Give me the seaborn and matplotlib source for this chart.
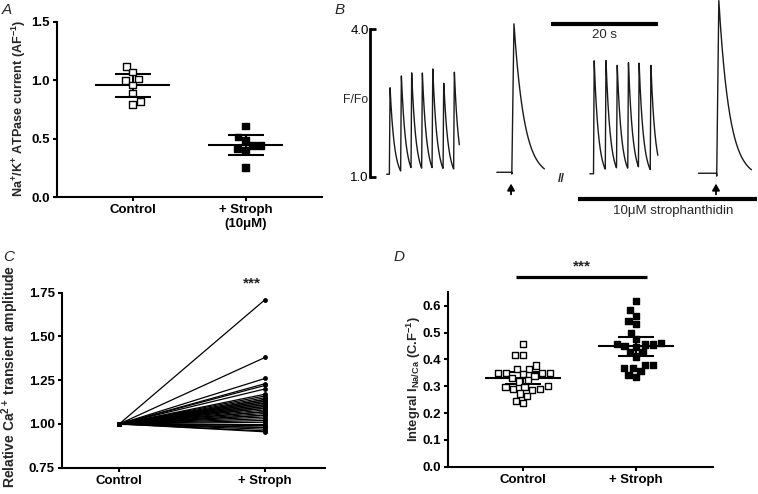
import numpy as np
import pandas as pd
import matplotlib
matplotlib.use('Agg')
import matplotlib.pyplot as plt
import seaborn as sns

# ------------------------------------------------------------------ data
groups = ['Control', '+ Stroph']
a_tick_labels = ['Control', '+ Stroph\n(10\u03bcM)']
a_control = [1.115, 1.07, 1.01, 0.995, 0.96, 0.89, 0.82, 0.79]
a_stroph = [0.61, 0.515, 0.488, 0.442, 0.442, 0.417, 0.40, 0.257]
a_mean = [0.958, 0.445]
a_lower = [0.858, 0.36]
a_upper = [1.055, 0.53]
a_yticks = [0.0, 0.5, 1.0, 1.5]

c_control = 1.0
c_stroph = [1.71, 1.38, 1.26, 1.23, 1.22, 1.20, 1.17, 1.16, 1.15, 1.14, 1.14,
            1.13, 1.13, 1.12, 1.12, 1.11, 1.11, 1.10, 1.10, 1.09, 1.09, 1.08,
            1.07, 1.07, 1.06, 1.05, 1.05, 1.04, 1.03, 1.02, 1.01, 1.00, 0.99,
            0.98, 0.98, 0.97, 0.96, 0.955]
c_yticks = [0.75, 1.00, 1.25, 1.50, 1.75]

d_control = [0.457, 0.417, 0.417, 0.377, 0.364, 0.364, 0.35, 0.35, 0.35, 0.35,
             0.345, 0.337, 0.33, 0.322, 0.318, 0.30, 0.298, 0.296, 0.29, 0.29,
             0.285, 0.273, 0.263, 0.246, 0.238]
d_stroph = [0.617, 0.583, 0.563, 0.543, 0.533, 0.498, 0.476, 0.462, 0.458,
            0.455, 0.455, 0.45, 0.445, 0.428, 0.428, 0.411, 0.38, 0.38, 0.367,
            0.367, 0.357, 0.343, 0.333]
d_mean = [0.330, 0.448]
d_lower = [0.309, 0.411]
d_upper = [0.352, 0.485]
d_yticks = [0.0, 0.1, 0.2, 0.3, 0.4, 0.5, 0.6]

# panel B: fluorescence traces (time in s, F/Fo)
b_paced1_t = [3.74, 5.85, 7.79, 9.78, 11.72, 13.78, 15.76]
b_paced1_f = [2.84, 3.08, 3.11, 3.12, 3.23, 2.94, 3.15]
b_paced2_t = [41.9, 44.1, 46.2, 48.3, 50.3, 52.5]
b_paced2_f = [3.37, 3.39, 3.29, 3.34, 3.31, 3.28]
b_caff_t = [26.9, 65.2]
b_caff_f = [4.12, 4.58]
b_arrow_t = [26.36, 64.67]

# ------------------------------------------------------------------ style
sns.set_theme(style='ticks')
plt.rcParams['font.family'] = ['Liberation Sans', 'DejaVu Sans']
plt.rcParams['font.weight'] = 'bold'
plt.rcParams['mathtext.fontset'] = 'custom'
plt.rcParams['mathtext.rm'] = 'Liberation Sans:bold'
plt.rcParams['mathtext.it'] = 'Liberation Sans:bold'
plt.rcParams['mathtext.bf'] = 'Liberation Sans:bold'

W, H = 758, 494
fig = plt.figure(figsize=(W / 100, H / 100), dpi=100)


def rect(left, right, top, bottom):
    return [left / W, 1 - bottom / H, (right - left) / W, (bottom - top) / H]


def style_axis(ax):
    for s in ['top', 'right']:
        ax.spines[s].set_visible(False)
    for s in ['left', 'bottom']:
        ax.spines[s].set_linewidth(1.5)
        ax.spines[s].set_color('black')
    ax.tick_params(axis='both', direction='out', length=3, width=1.5,
                   color='black', labelsize=9.5, pad=2, labelcolor='black')
    for lab in ax.get_xticklabels() + ax.get_yticklabels():
        lab.set_fontweight('bold')
    ax.set_xlabel('')
    ax.set_ylabel('')
    ax.grid(False)


def mean_err(ax, means, lows, highs, half=0.33, cap=0.16):
    for i, (m, lo, hi) in enumerate(zip(means, lows, highs)):
        ax.hlines(m, i - half, i + half, color='black', lw=1.5, zorder=1)
        ax.hlines([lo, hi], i - cap, i + cap, color='black', lw=1.5, zorder=1)
        ax.vlines(i, lo, hi, color='black', lw=1.5, zorder=1)


pal = {'Control': 'white', '+ Stroph': 'black'}

# ------------------------------------------------------------------ A
axA = fig.add_axes(rect(57, 321.7, 21.7, 197.3))
dfA = pd.DataFrame({'group': ['Control'] * len(a_control) + ['+ Stroph'] * len(a_stroph),
                    'value': a_control + a_stroph})
sns.swarmplot(data=dfA, x='group', y='value', hue='group', palette=pal, order=groups,
              marker='s', size=4.8, edgecolor='black', linewidth=1, legend=False,
              ax=axA, zorder=3)
mean_err(axA, a_mean, a_lower, a_upper)
axA.set_xlim(-0.67, 1.673)
axA.set_ylim(0, 1.5)
axA.set_yticks(a_yticks, [f'{v:.1f}' for v in a_yticks])
axA.set_xticks([0, 1], a_tick_labels)
style_axis(axA)
fig.text(19 / W, 1 - 108 / H, 'Na$^{+}$/K$^{+}$ ATPase current (AF$^{-1}$)',
         rotation=90, ha='center', va='center', fontsize=9.1, fontweight='bold')

# ------------------------------------------------------------------ C
axC = fig.add_axes(rect(61.7, 325, 292.7, 467.7))
dfC = pd.DataFrame({'cell': list(range(len(c_stroph))) * 2,
                    'x': [0] * len(c_stroph) + [1] * len(c_stroph),
                    'value': [c_control] * len(c_stroph) + c_stroph})
sns.lineplot(data=dfC, x='x', y='value', units='cell', estimator=None, color='black',
             lw=0.9, marker='o', markersize=3.5, markeredgewidth=0, ax=axC)
axC.set_xlim(-0.395, 1.412)
axC.set_ylim(0.75, 1.75)
axC.set_yticks(c_yticks, [f'{v:.2f}' for v in c_yticks])
axC.set_xticks([0, 1], groups)
style_axis(axC)
axC.text(0.914, 1.80, '***', ha='center', va='center', fontsize=11, fontweight='bold',
         clip_on=False)
fig.text(10 / W, 1 - 376 / H, 'Relative Ca$^{2+}$ transient amplitude',
         rotation=90, ha='center', va='center', fontsize=10, fontweight='bold')

# ------------------------------------------------------------------ D
axD = fig.add_axes(rect(448.3, 712.7, 292.3, 466.7))
dfD = pd.DataFrame({'group': ['Control'] * len(d_control) + ['+ Stroph'] * len(d_stroph),
                    'value': d_control + d_stroph})
sns.swarmplot(data=dfD, x='group', y='value', hue='group', palette=pal, order=groups,
              marker='s', size=4.5, edgecolor='black', linewidth=1, legend=False,
              ax=axD, zorder=3)
mean_err(axD, d_mean, d_lower, d_upper, half=0.337)
axD.set_xlim(-0.666, 1.68)
axD.set_ylim(0, 0.65)
axD.set_yticks(d_yticks, [f'{v:.1f}' for v in d_yticks])
axD.set_xticks([0, 1], groups)
style_axis(axD)
axD.plot([-0.065, 1.095], [0.708, 0.708], color='black', lw=2.3, clip_on=False,
         solid_capstyle='butt')
axD.text(0.518, 0.745, '***', ha='center', va='center', fontsize=11, fontweight='bold',
         clip_on=False)
fig.text(414 / W, 1 - 379 / H, 'Integral I$_{\\mathrm{Na/Ca}}$ (C.F$^{-1}$)',
         rotation=90, ha='center', va='center', fontsize=9.4, fontweight='bold')

# ------------------------------------------------------------------ B
axB = fig.add_axes(rect(370, 758, 0, 220))
axB.set_xlim(0, 388 / 5.35)
axB.set_ylim(1 - (220 - 176.7) / 49.23, 1 + 176.7 / 49.23)


def trace_value(tt, peak_t, peak_f, base, tau, rise):
    cur = None
    for tp, fp in zip(peak_t, peak_f):
        t0 = tp - rise
        if tt < t0:
            break
        start = base if cur is None else base + (cur[1] - base) * np.exp(-(t0 - cur[0]) / tau)
        if tt < tp:
            return start + (fp - start) * (tt - t0) / rise
        cur = (tp, fp)
    if cur is None:
        return base + 0.1
    return base + (cur[1] - base) * np.exp(-(tt - cur[0]) / tau)


segments = [
    (3.12, 16.7, b_paced1_t, b_paced1_f, 0.95, 0.82, 0.12),
    (23.7, 32.6, b_caff_t[:1], b_caff_f[:1], 0.99, 1.95, 0.4),
    (41.1, 53.8, b_paced2_t, b_paced2_f, 0.96, 0.82, 0.12),
    (61.4, 71.3, b_caff_t[1:], b_caff_f[1:], 0.97, 2.0, 0.4),
]
for t_start, t_end, pt, pf, base, tau, rise in segments:
    tt = np.linspace(t_start, t_end, 600)
    ff = np.array([trace_value(v, pt, pf, base, tau, rise) for v in tt])
    sns.lineplot(x=tt, y=ff, ax=axB, color='#1a1a1a', lw=1.0, estimator=None,
                 sort=False)

for s in ['top', 'right', 'bottom']:
    axB.spines[s].set_visible(False)
axB.spines['left'].set_bounds(1, 4)
axB.spines['left'].set_linewidth(2)
axB.spines['left'].set_color('black')
axB.set_yticks([1, 4], ['1.0', '4.0'])
axB.set_xticks([])
axB.tick_params(axis='y', direction='in', length=4, width=2, color='black',
                labelsize=9.5, pad=1, labelcolor='black')
for lab in axB.get_yticklabels():
    lab.set_fontweight('normal')
axB.set_xlabel('')
axB.set_ylabel('')
axB.grid(False)
axB.patch.set_alpha(0)

for ta in b_arrow_t:
    axB.annotate('', xy=(ta, 0.86), xytext=(ta, 0.64),
                 arrowprops=dict(arrowstyle='-|>,head_length=0.32,head_width=0.18',
                                 color='black', lw=1.3, shrinkA=0, shrinkB=0),
                 annotation_clip=False)
axB.plot([33.78, 53.78], [4.10, 4.10], color='black', lw=3, solid_capstyle='butt',
         clip_on=False)
axB.text(43.74, 3.88, '20 s', ha='center', va='center', fontsize=9.5,
         fontweight='normal')
axB.plot([38.93, 72.28], [0.541, 0.541], color='black', lw=3, solid_capstyle='butt',
         clip_on=False)
axB.text(56.64, 0.31, '10\u03bcM strophanthidin', ha='center', va='center',
         fontsize=9.5, fontweight='normal')
axB.text(35.83, 0.95, '//', ha='center', va='center', fontsize=9, fontweight='bold')
fig.text(356 / W, 1 - 100 / H, 'F/Fo', ha='center', va='center', fontsize=8.8,
         fontweight='normal')

# ------------------------------------------------------------------ panel letters
for lab, x, y in [('A', 6.5, 10), ('B', 340, 10), ('C', 8.5, 257), ('D', 399, 257)]:
    fig.text(x / W, 1 - y / H, lab, ha='center', va='center', fontsize=11,
             fontstyle='italic', fontweight='normal')

fig.savefig('out.png', dpi=100)
